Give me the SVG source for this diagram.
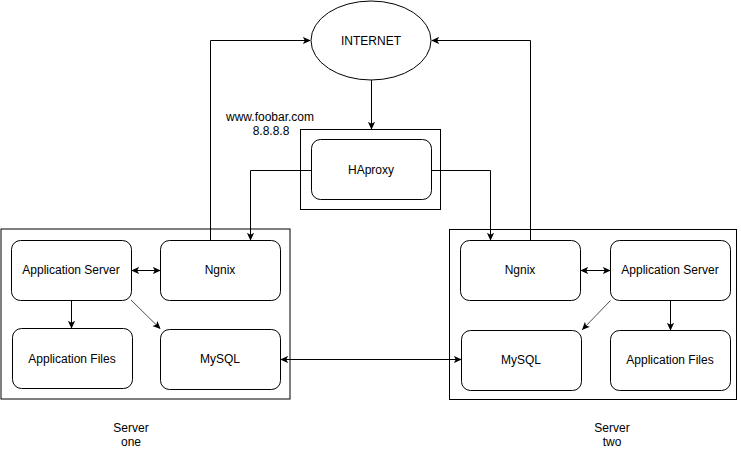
<svg xmlns="http://www.w3.org/2000/svg" width="741" height="450" viewBox="0 0 741 450">
<defs>
<style>
.box{fill:#fff;stroke:#000;stroke-width:1}
.rbox{fill:#fff;stroke:#000;stroke-width:1}
.t{font-family:"Liberation Sans",Arial,sans-serif;font-size:12px;fill:#000;text-anchor:middle}
.c{fill:none;stroke:#000;stroke-width:1}
.thin{fill:none;stroke:#000;stroke-width:0.7}
</style>
<marker id="a" viewBox="0 0 10 10" refX="9" refY="5" markerWidth="8" markerHeight="8" markerUnits="userSpaceOnUse" orient="auto-start-reverse">
<path d="M0,0.5 L10,5 L0,9.5 L2.5,5 Z" fill="#000"/>
</marker>
</defs>
<rect width="741" height="450" fill="#fff"/>
<g id="server-one">
<rect class="box" x="1" y="229" width="289" height="170"/>
</g>
<g id="server-two">
<rect class="box" x="449.5" y="229.5" width="287" height="170"/>
</g>
<g id="haproxy-frame">
<rect class="box" x="300.5" y="129.5" width="140" height="80"/>
</g>
<g id="internet">
<ellipse class="box" cx="371" cy="40.5" rx="60" ry="39.5"/>
<text class="t" x="371" y="45">INTERNET</text>
</g>
<g id="haproxy">
<rect class="rbox" x="311.5" y="139.5" width="120" height="60" rx="9"/>
<text class="t" x="371" y="174">HAproxy</text>
</g>
<g id="dns-label">
<text class="t" x="270" y="121">www.foobar.com</text>
<text class="t" x="271" y="135">8.8.8.8</text>
</g>
<g id="s1-appserver">
<rect class="rbox" x="11.5" y="240.5" width="120" height="60" rx="9"/>
<text class="t" x="71" y="274">Application Server</text>
</g>
<g id="s1-ngnix">
<rect class="rbox" x="160.5" y="240.5" width="120" height="60" rx="9"/>
<text class="t" x="220" y="274">Ngnix</text>
</g>
<g id="s1-files">
<rect class="rbox" x="12.5" y="328.5" width="120" height="60" rx="9"/>
<text class="t" x="72" y="363">Application Files</text>
</g>
<g id="s1-mysql">
<rect class="rbox" x="160.5" y="329.5" width="120" height="60" rx="9"/>
<text class="t" x="220" y="363">MySQL</text>
</g>
<g id="s2-ngnix">
<rect class="rbox" x="460.5" y="240.5" width="120" height="60" rx="9"/>
<text class="t" x="520" y="274">Ngnix</text>
</g>
<g id="s2-appserver">
<rect class="rbox" x="610.5" y="240.5" width="120" height="60" rx="9"/>
<text class="t" x="670" y="274">Application Server</text>
</g>
<g id="s2-mysql">
<rect class="rbox" x="461.5" y="330.5" width="120" height="60" rx="9"/>
<text class="t" x="521" y="364">MySQL</text>
</g>
<g id="s2-files">
<rect class="rbox" x="610.5" y="330.5" width="120" height="60" rx="9"/>
<text class="t" x="670" y="364">Application Files</text>
</g>
<g id="labels">
<text class="t" x="131" y="432">Server</text>
<text class="t" x="131" y="446">one</text>
<text class="t" x="612" y="432">Server</text>
<text class="t" x="612" y="446">two</text>
</g>
<g id="connectors">
<path class="c" d="M210.5,240 V40.5 H310" marker-end="url(#a)"/>
<path class="c" d="M530.5,240 V40.5 H432" marker-end="url(#a)"/>
<path class="c" d="M371.5,80 V129" marker-end="url(#a)"/>
<path class="c" d="M311,170.5 H250.5 V240" marker-end="url(#a)"/>
<path class="c" d="M431,170.5 H490.5 V240" marker-end="url(#a)"/>
<path class="c" d="M132,270.5 H160" marker-start="url(#a)" marker-end="url(#a)"/>
<path class="c" d="M71.5,300 V328" marker-end="url(#a)"/>
<path class="thin" d="M131,300 L160,328.5" marker-end="url(#a)"/>
<path class="c" d="M581,270.5 H610" marker-start="url(#a)" marker-end="url(#a)"/>
<path class="c" d="M670.5,300 V330" marker-end="url(#a)"/>
<path class="thin" d="M610.5,300.5 L582.5,329.5" marker-end="url(#a)"/>
<path class="c" d="M281,359.5 H461" marker-start="url(#a)" marker-end="url(#a)"/>
</g>
</svg>
